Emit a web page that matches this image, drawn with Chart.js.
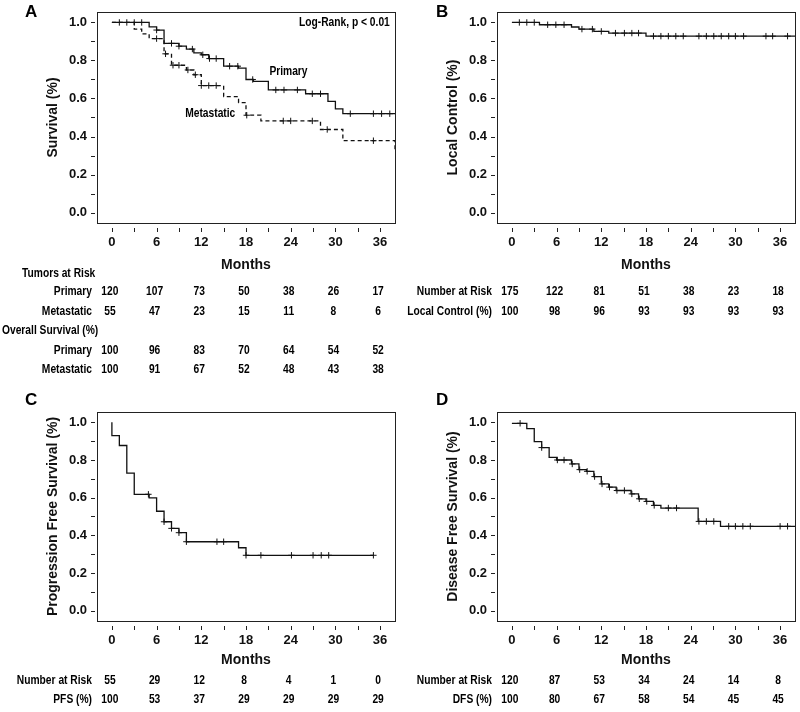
<!DOCTYPE html>
<html>
<head>
<meta charset="utf-8">
<script src="https://cdn.jsdelivr.net/npm/chart.js@4.4.1/dist/chart.umd.min.js"></script>
<style>
body { margin: 0; background: #fff; width: 800px; height: 712px; position: relative; overflow: hidden; }
canvas { position: absolute; }
</style>
</head>
<body>
<canvas id="chartA" width="400" height="390" style="left:0;top:0"></canvas>
<canvas id="chartB" width="400" height="390" style="left:400px;top:0"></canvas>
<canvas id="chartC" width="400" height="322" style="left:0;top:390px"></canvas>
<canvas id="chartD" width="400" height="322" style="left:400px;top:390px"></canvas>
<script>
// months shown under each plot
var riskMonths = [0, 6, 12, 18, 24, 30, 36];
var xTicks = [0, 3, 6, 9, 12, 15, 18, 21, 24, 27, 30, 33, 36];
var yTicks = [0, 0.1, 0.2, 0.3, 0.4, 0.5, 0.6, 0.7, 0.8, 0.9, 1.0];

// A - overall survival, primary vs metastatic
var aPrimaryTimes = [0, 5, 6, 7, 9, 10, 11, 12, 13, 15, 17, 18, 19, 21, 26, 29, 30, 31, 38];
var aPrimarySurv = [1, 0.977, 0.96, 0.89, 0.875, 0.86, 0.84, 0.83, 0.81, 0.77, 0.76, 0.70, 0.69, 0.645, 0.625, 0.585, 0.545, 0.52, 0.52];
var aPrimaryCensor = [1, 3, 4, 6, 8, 9, 10.8, 12.2, 13.1, 14, 15.8, 16.9, 18.9, 22, 23.1, 24.9, 26.9, 28, 32, 35.1, 36.2, 37.3];
var aMetTimes = [0, 3, 4, 5, 7, 8, 10, 11, 12, 15, 17, 18, 20, 28, 31, 38];
var aMetSurv = [1, 0.965, 0.94, 0.915, 0.835, 0.775, 0.75, 0.725, 0.668, 0.61, 0.578, 0.512, 0.482, 0.437, 0.378, 0.32];
var aMetCensor = [2, 6, 7.2, 8.2, 9, 10.2, 11.2, 12, 13, 14, 18.1, 23, 24, 26.9, 28.9, 35.1];
var aPrimaryAtRisk = [120, 107, 73, 50, 38, 26, 17];
var aMetAtRisk = [55, 47, 23, 15, 11, 8, 6];
var aPrimaryOS = [100, 96, 83, 70, 64, 54, 52];
var aMetOS = [100, 91, 67, 52, 48, 43, 38];

// B - local control
var bTimes = [0, 3.7, 8, 9, 11, 13, 18, 38];
var bSurv = [1, 0.988, 0.976, 0.965, 0.953, 0.944, 0.928, 0.928];
var bCensor = [1, 2, 3, 4.8, 5.9, 7, 9.4, 10.8, 12, 13.9, 15.1, 16.1, 17, 19, 20, 21, 22, 23, 25.1, 26.1, 27.1, 28.1, 29.1, 30, 31.1, 34.1, 35, 37];
var bAtRisk = [175, 122, 81, 51, 38, 23, 18];
var bLocalControl = [100, 98, 96, 93, 93, 93, 93];

// C - progression free survival
var cTimes = [0, 0, 1, 2, 3, 5, 6, 7, 8, 9, 10, 17, 18, 35.1];
var cSurv = [1, 0.93, 0.877, 0.73, 0.618, 0.599, 0.528, 0.472, 0.437, 0.414, 0.366, 0.334, 0.294, 0.294];
var cCensor = [4.9, 7, 8, 9, 10, 14.1, 15, 18, 20, 24.1, 27, 28.1, 29.1, 35.1];
var cAtRisk = [55, 29, 12, 8, 4, 1, 0];
var cPFS = [100, 53, 37, 29, 29, 29, 29];

// D - disease free survival
var dTimes = [0, 2, 3, 4, 5, 6, 8, 9, 10, 11, 12, 13, 14, 16, 17, 18, 19, 20, 25, 28, 38];
var dSurv = [0.995, 0.967, 0.898, 0.866, 0.814, 0.80, 0.779, 0.749, 0.74, 0.712, 0.673, 0.656, 0.638, 0.62, 0.594, 0.58, 0.559, 0.545, 0.474, 0.448, 0.448];
var dCensor = [1.1, 4, 6.1, 7, 8.1, 9.1, 10.1, 11.1, 12.1, 13.1, 14.1, 15.1, 16.1, 17.1, 18.1, 19.1, 21, 22.1, 25.1, 26.1, 27.1, 29.1, 30, 31, 32, 36, 37];
var dAtRisk = [120, 87, 53, 34, 24, 14, 8];
var dDFS = [100, 80, 67, 58, 54, 45, 45];

var INK = '#111';

// per panel extras: letter, risk table rows, notes
var decor = {
    chartA: {
        letter: 'A', letterX: 25, letterY: 17,
        rows: [
            {label: 'Tumors at Risk', y: 274, align: 'left', x: 22},
            {label: 'Primary', values: aPrimaryAtRisk, y: 292},
            {label: 'Metastatic', values: aMetAtRisk, y: 312},
            {label: 'Overall Survival (%)', y: 331, align: 'left', x: 2},
            {label: 'Primary', values: aPrimaryOS, y: 351},
            {label: 'Metastatic', values: aMetOS, y: 370}
        ],
        notes: [
            {text: 'Log-Rank, p < 0.01', x: 37.3, y: 1.0, align: 'right'},
            {text: 'Primary', x: 23.7, y: 0.744},
            {text: 'Metastatic', x: 13.2, y: 0.523}
        ]
    },
    chartB: {
        letter: 'B', letterX: 36, letterY: 17,
        rows: [
            {label: 'Number at Risk', values: bAtRisk, y: 292},
            {label: 'Local Control (%)', values: bLocalControl, y: 312}
        ]
    },
    chartC: {
        letter: 'C', letterX: 25, letterY: 15,
        rows: [
            {label: 'Number at Risk', values: cAtRisk, y: 291},
            {label: 'PFS (%)', values: cPFS, y: 310}
        ]
    },
    chartD: {
        letter: 'D', letterX: 36, letterY: 15,
        rows: [
            {label: 'Number at Risk', values: dAtRisk, y: 291},
            {label: 'DFS (%)', values: dDFS, y: 310}
        ]
    }
};

function curve(times, surv) {
    return times.map(function(t, i) { return {x: t, y: surv[i]}; });
}

// value of the step curve at time t
function survAt(times, surv, t) {
    var v = surv[0];
    for (var i = 0; i < times.length; i++) {
        if (times[i] <= t) v = surv[i];
    }
    return v;
}

function lineSet(times, surv, dash) {
    return {
        data: curve(times, surv),
        showLine: true,
        stepped: true,
        borderColor: INK,
        borderWidth: 1.3,
        borderDash: dash || [],
        pointRadius: 0
    };
}

function censorSet(censor, times, surv) {
    return {
        data: censor.map(function(t) { return {x: t, y: survAt(times, surv, t)}; }),
        showLine: false,
        pointStyle: 'cross',
        pointRadius: 3.2,
        borderColor: INK,
        borderWidth: 1
    };
}

// condensed bold text, like the narrow face of the original
function narrowText(ctx, text, x, y, align) {
    ctx.save();
    ctx.translate(x, y);
    ctx.scale(0.82, 1);
    ctx.textAlign = align;
    ctx.fillText(text, 0, 0);
    ctx.restore();
}

// frame, offset tick marks, panel letter, risk table and notes
var kmDecor = {
    id: 'kmDecor',
    afterDraw: function(chart) {
        var opts = decor[chart.canvas.id];
        var ctx = chart.ctx, a = chart.chartArea, x = chart.scales.x, y = chart.scales.y;
        ctx.save();
        ctx.strokeStyle = '#222';
        ctx.lineWidth = 1;
        ctx.strokeRect(Math.round(a.left) + 0.5, Math.round(a.top) + 0.5, Math.round(a.right - a.left), Math.round(a.bottom - a.top));
        ctx.beginPath();
        x.ticks.forEach(function(t) {
            var px = Math.round(x.getPixelForValue(t.value)) + 0.5;
            ctx.moveTo(px, a.bottom + 5);
            ctx.lineTo(px, a.bottom + 9);
        });
        y.ticks.forEach(function(t) {
            var py = Math.round(y.getPixelForValue(t.value)) + 0.5;
            ctx.moveTo(a.left - 6, py);
            ctx.lineTo(a.left - 2, py);
        });
        ctx.stroke();

        ctx.fillStyle = '#000';
        ctx.font = 'bold 17px Arial';
        ctx.textAlign = 'left';
        ctx.textBaseline = 'alphabetic';
        ctx.fillText(opts.letter, opts.letterX, opts.letterY);

        ctx.font = 'bold 12.5px Arial';
        ctx.textBaseline = 'middle';
        (opts.rows || []).forEach(function(row) {
            narrowText(ctx, row.label, row.x != null ? row.x : 92, row.y, row.align || 'right');
            if (row.values) {
                row.values.forEach(function(v, i) {
                    narrowText(ctx, String(v), x.getPixelForValue(riskMonths[i]) - 2, row.y, 'center');
                });
            }
        });
        (opts.notes || []).forEach(function(n) {
            narrowText(ctx, n.text, x.getPixelForValue(n.x), y.getPixelForValue(n.y), n.align || 'center');
        });
        ctx.restore();
    }
};

function makeChart(id, datasets, yTitle, pad, xHeight) {
    return new Chart(document.getElementById(id), {
        type: 'scatter',
        data: {datasets: datasets},
        options: {
            responsive: false,
            animation: false,
            events: [],
            devicePixelRatio: 1,
            layout: {padding: pad},
            plugins: {legend: {display: false}, tooltip: {enabled: false}},
            scales: {
                x: {
                    type: 'linear', min: -2, max: 38,
                    grid: {display: false, drawTicks: false},
                    border: {display: false},
                    afterBuildTicks: function(s) { s.ticks = xTicks.map(function(v) { return {value: v}; }); },
                    afterFit: function(s) { s.height = xHeight; s.paddingLeft = 0; s.paddingRight = 0; },
                    ticks: {
                        autoSkip: false, maxRotation: 0, padding: 12, color: INK,
                        font: {family: 'Arial', weight: 'bold', size: 13},
                        callback: function(v) { return v % 6 === 0 ? String(v) : ''; }
                    },
                    title: {display: true, text: 'Months', color: INK, padding: 0,
                        font: {family: 'Arial', weight: 'bold', size: 14}}
                },
                y: {
                    type: 'linear', min: -0.055, max: 1.055,
                    grid: {display: false, drawTicks: false},
                    border: {display: false},
                    afterBuildTicks: function(s) { s.ticks = yTicks.map(function(v) { return {value: v}; }); },
                    afterFit: function(s) { s.width = 97; s.paddingTop = 0; s.paddingBottom = 0; },
                    ticks: {
                        autoSkip: false, padding: 10, color: INK,
                        font: {family: 'Arial', weight: 'bold', size: 13},
                        callback: function(v) { return Math.round(v * 10) % 2 === 0 ? v.toFixed(1) : ''; }
                    },
                    title: {display: true, text: yTitle, color: INK, padding: {top: 45, bottom: 0},
                        font: {family: 'Arial', weight: 'bold', size: 14}}
                }
            }
        },
        plugins: [kmDecor]
    });
}

makeChart('chartA', [
    lineSet(aPrimaryTimes, aPrimarySurv),
    censorSet(aPrimaryCensor, aPrimaryTimes, aPrimarySurv),
    lineSet(aMetTimes, aMetSurv, [4, 3]),
    censorSet(aMetCensor, aMetTimes, aMetSurv)
], 'Survival (%)', {left: 0, right: 2, top: 12, bottom: 116}, 51);

makeChart('chartB', [
    lineSet(bTimes, bSurv),
    censorSet(bCensor, bTimes, bSurv)
], 'Local Control (%)', {left: 0, right: 4, top: 12, bottom: 116}, 51);

makeChart('chartC', [
    lineSet(cTimes, cSurv),
    censorSet(cCensor, cTimes, cSurv)
], 'Progression Free Survival (%)', {left: 0, right: 2, top: 22, bottom: 43}, 48);

makeChart('chartD', [
    lineSet(dTimes, dSurv),
    censorSet(dCensor, dTimes, dSurv)
], 'Disease Free Survival (%)', {left: 0, right: 4, top: 22, bottom: 43}, 48);
</script>
</body>
</html>
